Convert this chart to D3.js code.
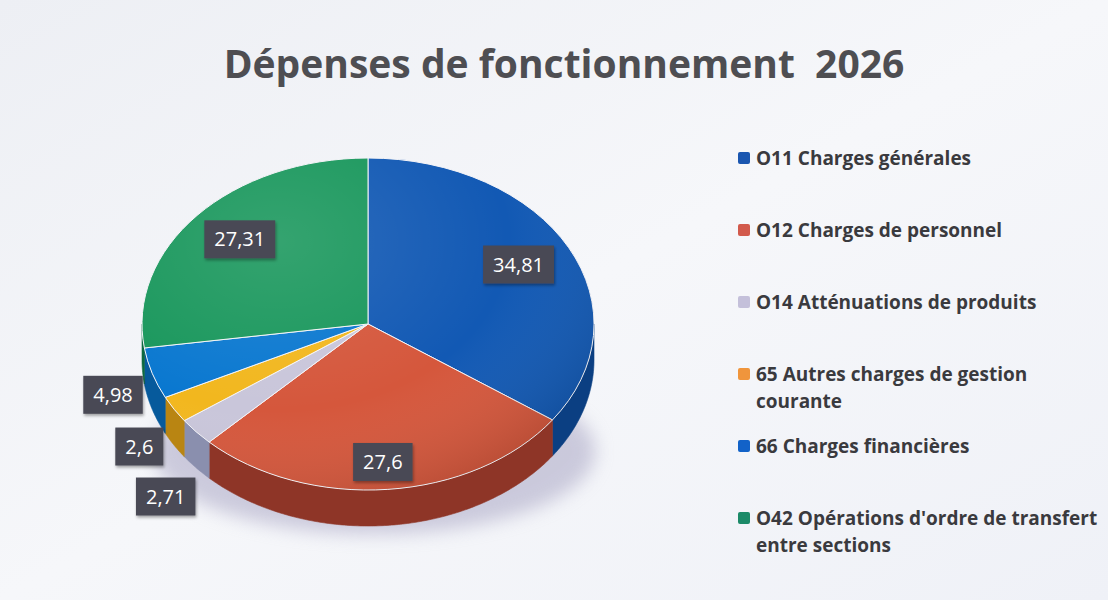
<!DOCTYPE html>
<html>
<head>
<meta charset="utf-8">
<script src="https://cdn.jsdelivr.net/npm/d3@7"></script>
<style>
  html, body { margin: 0; padding: 0; background: #f3f4f8; }
  svg { display: block; }
</style>
</head>
<body>
<div id="chart"></div>
<script>
// data
var categories = ['O11', 'O12', 'O14', '65', '66', 'O42']
var values = [34.81, 27.6, 2.71, 2.6, 4.98, 27.31]
var legendLines = [
  ['O11 Charges générales'],
  ['O12 Charges de personnel'],
  ['O14 Atténuations de produits'],
  ['65 Autres charges de gestion', 'courante'],
  ['66 Charges financières'],
  ["O42 Opérations d'ordre de transfert", 'entre sections']
]
var sliceColors = ['#1259b4', '#d5573c', '#c9c6da', '#f2b71e', '#0a78d0', '#19975c']
var sideColors = ['#0b3f82', '#8e3527', '#8a8fae', '#b98512', '#065a9c', '#0f6a40']
var swatchColors = ['#1a56b0', '#d25a4c', '#c4c0da', '#f0953c', '#1262c8', '#1c8a68']
var title = 'Dépenses de fonctionnement\u00a0 2026'

var w = 1108
var h = 600

var svg = d3.select('#chart').append('svg')
  .attr('width', w)
  .attr('height', h)
  .attr('viewBox', [0, 0, w, h].join(' '))

var defs = svg.append('defs')
var bg = defs.append('linearGradient').attr('id', 'bg')
  .attr('x1', 0).attr('y1', 0).attr('x2', 1).attr('y2', 1)
bg.append('stop').attr('offset', '0%').attr('stop-color', '#edeff4')
bg.append('stop').attr('offset', '50%').attr('stop-color', '#f6f7fa')
bg.append('stop').attr('offset', '100%').attr('stop-color', '#eff1f7')

svg.append('rect')
  .attr('x', 0).attr('y', 0).attr('width', w).attr('height', h)
  .attr('fill', 'url(#bg)')

var blur = defs.append('filter').attr('id', 'blur')
  .attr('x', '-30%').attr('y', '-30%').attr('width', '160%').attr('height', '160%')
blur.append('feGaussianBlur').attr('stdDeviation', 9)

var boxShadow = defs.append('filter').attr('id', 'boxshadow')
  .attr('x', '-20%').attr('y', '-20%').attr('width', '140%').attr('height', '160%')
boxShadow.append('feDropShadow').attr('dx', 1).attr('dy', 2)
  .attr('stdDeviation', 1.5).attr('flood-color', '#000').attr('flood-opacity', 0.35)

var light = defs.append('radialGradient').attr('id', 'light')
  .attr('cx', '30%').attr('cy', '25%').attr('r', '85%')
light.append('stop').attr('offset', '0%').attr('stop-color', '#fff').attr('stop-opacity', 0.12)
light.append('stop').attr('offset', '60%').attr('stop-color', '#fff').attr('stop-opacity', 0)
light.append('stop').attr('offset', '100%').attr('stop-color', '#000').attr('stop-opacity', 0.14)

// title
svg.append('text')
  .attr('x', 564)
  .attr('y', 78)
  .attr('text-anchor', 'middle')
  .style('font-family', '"Open Sans", sans-serif')
  .style('font-weight', 700)
  .style('font-size', '39px')
  .style('fill', '#4e4e52')
  .text(title)

// pie geometry
var cx = 368
var cy = 324
var rx = 226
var ry = 166
var depth = 36

var pie = d3.pie().sort(null).value(function (d) { return d })
var arcs = pie(values)

function rim (t, dy) {
  return [cx + rx * Math.sin(t), cy - ry * Math.cos(t) + dy]
}

// soft shadow under the pie
svg.append('ellipse')
  .attr('cx', cx + 6)
  .attr('cy', cy + depth + ry * 0.55)
  .attr('rx', rx * 0.98)
  .attr('ry', ry * 0.5)
  .attr('fill', '#a9a6c4')
  .attr('opacity', 0.55)
  .attr('filter', 'url(#blur)')

var line = d3.line()

// outer walls, front half only
var walls = svg.append('g')
arcs.forEach(function (a, i) {
  var t0 = Math.max(a.startAngle, Math.PI / 2)
  var t1 = Math.min(a.endAngle, Math.PI * 1.5)
  if (t1 <= t0) return
  var ts = d3.range(t0, t1, 0.01).concat([t1])
  var pts = ts.map(function (t) { return rim(t, 0) })
    .concat(ts.slice().reverse().map(function (t) { return rim(t, depth) }))
  walls.append('path')
    .attr('d', line(pts) + 'Z')
    .attr('fill', sideColors[i])
    .attr('stroke', sideColors[i])
    .attr('stroke-width', 0.6)
})

// top surfaces
var arc = d3.arc().innerRadius(0).outerRadius(rx)
var topG = svg.append('g')
  .attr('transform', 'translate(' + cx + ',' + cy + ') scale(1,' + (ry / rx) + ')')
topG.selectAll('path.slice')
  .data(arcs)
  .enter().append('path')
  .attr('class', 'slice')
  .attr('d', arc)
  .attr('fill', function (d, i) { return sliceColors[i] })
  .attr('stroke', '#f4f4f8')
  .attr('stroke-width', 1)
  .attr('vector-effect', 'non-scaling-stroke')
topG.append('circle')
  .attr('r', rx)
  .attr('fill', 'url(#light)')

// data labels
var locale = d3.formatLocale({ decimal: ',', thousands: ' ', grouping: [3], currency: ['', ' €'] })
var fmt = locale.format('~f')

var labels = arcs.map(function (a, i) {
  var mid = (a.startAngle + a.endAngle) / 2
  var inside = a.value > 10
  var p
  if (inside) {
    p = [cx + rx * 0.75 * Math.sin(mid), cy - ry * 0.78 * Math.cos(mid) + (Math.cos(mid) < 0 ? depth * 0.25 : 0)]
  } else {
    p = [cx + rx * 1.2 * Math.sin(mid) + 4, cy - (ry * 1.22 + depth) * Math.cos(mid)]
  }
  return { text: fmt(a.value), x: p[0], y: p[1], inside: inside, mid: mid }
})

// push stacked outside labels apart
var outside = labels.filter(function (l) { return !l.inside })
  .sort(function (a, b) { return a.y - b.y })
for (var k = 1; k < outside.length; k++) {
  if (outside[k].y - outside[k - 1].y < 50) outside[k].y = outside[k - 1].y + 50
}

var lg = svg.append('g')
labels.forEach(function (l) {
  var g = lg.append('g').attr('transform', 'translate(' + l.x + ',' + l.y + ')')
  var rect = g.append('rect').attr('fill', '#4a4955').attr('filter', 'url(#boxshadow)')
  var t = g.append('text')
    .attr('text-anchor', 'middle')
    .attr('dy', '0.35em')
    .style('font-family', '"Open Sans", sans-serif')
    .style('font-size', '20px')
    .style('fill', '#ffffff')
    .text(l.text)
  var tw = t.node().getComputedTextLength()
  rect.attr('x', -tw / 2 - 10).attr('y', -19).attr('width', tw + 20).attr('height', 38)
})

// legend
var legend = svg.append('g').attr('transform', 'translate(738,0)')
var legendY = d3.scaleLinear().domain([0, categories.length - 1]).range([158, 518])
legendLines.forEach(function (lines, i) {
  var y = legendY(i)
  legend.append('rect')
    .attr('x', 0).attr('y', y - 6)
    .attr('width', 12).attr('height', 12)
    .attr('rx', 2)
    .attr('fill', swatchColors[i])
  lines.forEach(function (s, j) {
    legend.append('text')
      .attr('x', 18)
      .attr('y', y + j * 27)
      .attr('dy', '0.36em')
      .style('font-family', '"Open Sans", sans-serif')
      .style('font-weight', 700)
      .style('font-size', '19px')
      .style('fill', '#3a3a3e')
      .text(s)
  })
})
</script>
</body>
</html>
